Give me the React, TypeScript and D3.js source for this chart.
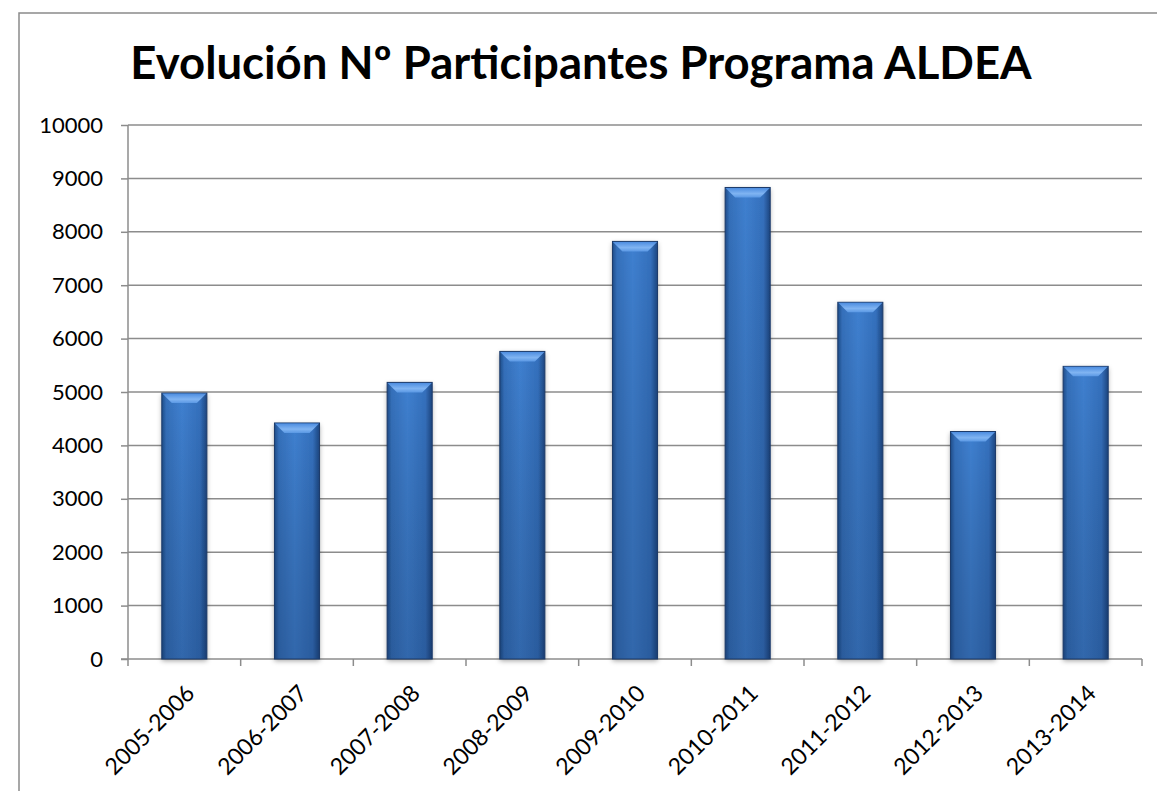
import React, { useEffect, useRef } from "react";
import * as d3 from "d3";

const categories = [
  "2005-2006", "2006-2007", "2007-2008", "2008-2009", "2009-2010",
  "2010-2011", "2011-2012", "2012-2013", "2013-2014",
];
const participantes = [4980, 4420, 5180, 5760, 7820, 8830, 6680, 4260, 5480];
const yTicks = [0, 1000, 2000, 3000, 4000, 5000, 6000, 7000, 8000, 9000, 10000];
const title = "Evolución Nº Participantes Programa ALDEA";

const W = 1157, H = 791;
const margin = { top: 125, right: 15, bottom: 132, left: 128 };

export default function App() {
  const ref = useRef<SVGSVGElement>(null);

  useEffect(() => {
    const svg = d3.select(ref.current);
    svg.selectAll("*").remove();
    const width = W - margin.left - margin.right;
    const height = H - margin.top - margin.bottom;
    const font = "Lato, 'Open Sans', sans-serif";

    const defs = svg.append("defs");
    const side = defs.append("linearGradient").attr("id", "side").attr("x1", 0).attr("x2", 1).attr("y1", 0).attr("y2", 0);
    side.append("stop").attr("offset", "0%").attr("stop-color", "#1f4d8a");
    side.append("stop").attr("offset", "10%").attr("stop-color", "#3570bb");
    side.append("stop").attr("offset", "45%").attr("stop-color", "#3f80d0");
    side.append("stop").attr("offset", "85%").attr("stop-color", "#3470bd");
    side.append("stop").attr("offset", "100%").attr("stop-color", "#1d4680");
    const shade = defs.append("linearGradient").attr("id", "shade").attr("x1", 0).attr("x2", 0).attr("y1", 0).attr("y2", 1);
    shade.append("stop").attr("offset", "0%").attr("stop-color", "#000").attr("stop-opacity", 0);
    shade.append("stop").attr("offset", "100%").attr("stop-color", "#0a1e40").attr("stop-opacity", 0.25);
    const bevel = defs.append("linearGradient").attr("id", "bevel").attr("x1", 0).attr("x2", 0).attr("y1", 0).attr("y2", 1);
    bevel.append("stop").attr("offset", "0%").attr("stop-color", "#4d8de0");
    bevel.append("stop").attr("offset", "60%").attr("stop-color", "#80b4f2");
    bevel.append("stop").attr("offset", "100%").attr("stop-color", "#5a98e4");
    const shadow = defs.append("filter").attr("id", "shadow").attr("x", "-30%").attr("y", "-10%").attr("width", "160%").attr("height", "120%");
    shadow.append("feDropShadow").attr("dx", 0).attr("dy", 2).attr("stdDeviation", 2.5).attr("flood-color", "#000").attr("flood-opacity", 0.35);

    // outer border
    svg.append("rect").attr("x", 19).attr("y", 13).attr("width", W).attr("height", H)
      .attr("fill", "white").attr("stroke", "#8a8a8a").attr("stroke-width", 1.5);

    svg.append("text").attr("x", 581).attr("y", 79).attr("text-anchor", "middle")
      .attr("font-family", font).attr("font-weight", 700).attr("font-size", 45.5)
      .attr("fill", "#000").text(title);

    const g = svg.append("g").attr("transform", `translate(${margin.left},${margin.top})`);
    const x = d3.scaleBand().domain(categories).range([0, width]).paddingInner(0.6).paddingOuter(0.3);
    const y = d3.scaleLinear().domain([0, 10000]).range([height, 0]);

    g.append("g").selectAll("line").data(yTicks.filter(d => d > 0)).enter().append("line")
      .attr("x1", 0).attr("x2", width).attr("y1", d => y(d)).attr("y2", d => y(d))
      .attr("stroke", "#8c8c8c").attr("stroke-width", 1.5);

    const yAxis = g.append("g").call(d3.axisLeft(y).tickValues(yTicks).tickSize(7).tickPadding(18).tickFormat(d3.format("d")));
    yAxis.select(".domain").attr("stroke", "#8c8c8c").attr("stroke-width", 1.5).attr("d", `M0,0V${height}`);
    yAxis.selectAll(".tick line").attr("stroke", "#8c8c8c").attr("stroke-width", 1.5);
    yAxis.selectAll("text").attr("font-family", font).attr("font-size", 22).attr("fill", "#000");

    const step = x.step();
    const xg = g.append("g").attr("transform", `translate(0,${height})`);
    xg.append("line").attr("x1", -7).attr("x2", width).attr("stroke", "#8c8c8c").attr("stroke-width", 1.5);
    xg.selectAll("line.tk").data(d3.range(categories.length + 1)).enter().append("line")
      .attr("class", "tk").attr("x1", i => i * step).attr("x2", i => i * step)
      .attr("y1", 0).attr("y2", 7).attr("stroke", "#8c8c8c").attr("stroke-width", 1.5);
    xg.selectAll("text").data(categories).enter().append("text")
      .attr("transform", d => `translate(${x(d)! + x.bandwidth() / 2 + 6},${30}) rotate(-45)`)
      .attr("text-anchor", "end").attr("dy", "0.35em")
      .attr("font-family", font).attr("font-size", 23).attr("fill", "#000").text(d => d);

    const bars = g.append("g").selectAll("g").data(categories).enter().append("g");
    const bw = x.bandwidth();
    bars.append("rect").attr("x", d => x(d)!).attr("y", (d, i) => y(participantes[i]))
      .attr("width", bw).attr("height", (d, i) => height - y(participantes[i]))
      .attr("fill", "url(#side)").attr("filter", "url(#shadow)");
    bars.append("rect").attr("x", d => x(d)!).attr("y", (d, i) => y(participantes[i]))
      .attr("width", bw).attr("height", (d, i) => height - y(participantes[i]))
      .attr("fill", "url(#shade)").attr("stroke", "#1b3a6a").attr("stroke-width", 1);
    const inset = 10;
    bars.append("path").attr("d", (d, i) => {
      const x0 = x(d)!, top = y(participantes[i]);
      return `M${x0 + 0.5},${top + 0.5}L${x0 + bw - 0.5},${top + 0.5}L${x0 + bw - inset},${top + inset}L${x0 + inset},${top + inset}Z`;
    }).attr("fill", "url(#bevel)");
  }, []);

  return (
    <svg ref={ref} width={W} height={H}
      style={{ position: "absolute", left: 0, top: 0, background: "white" }} />
  );
}
